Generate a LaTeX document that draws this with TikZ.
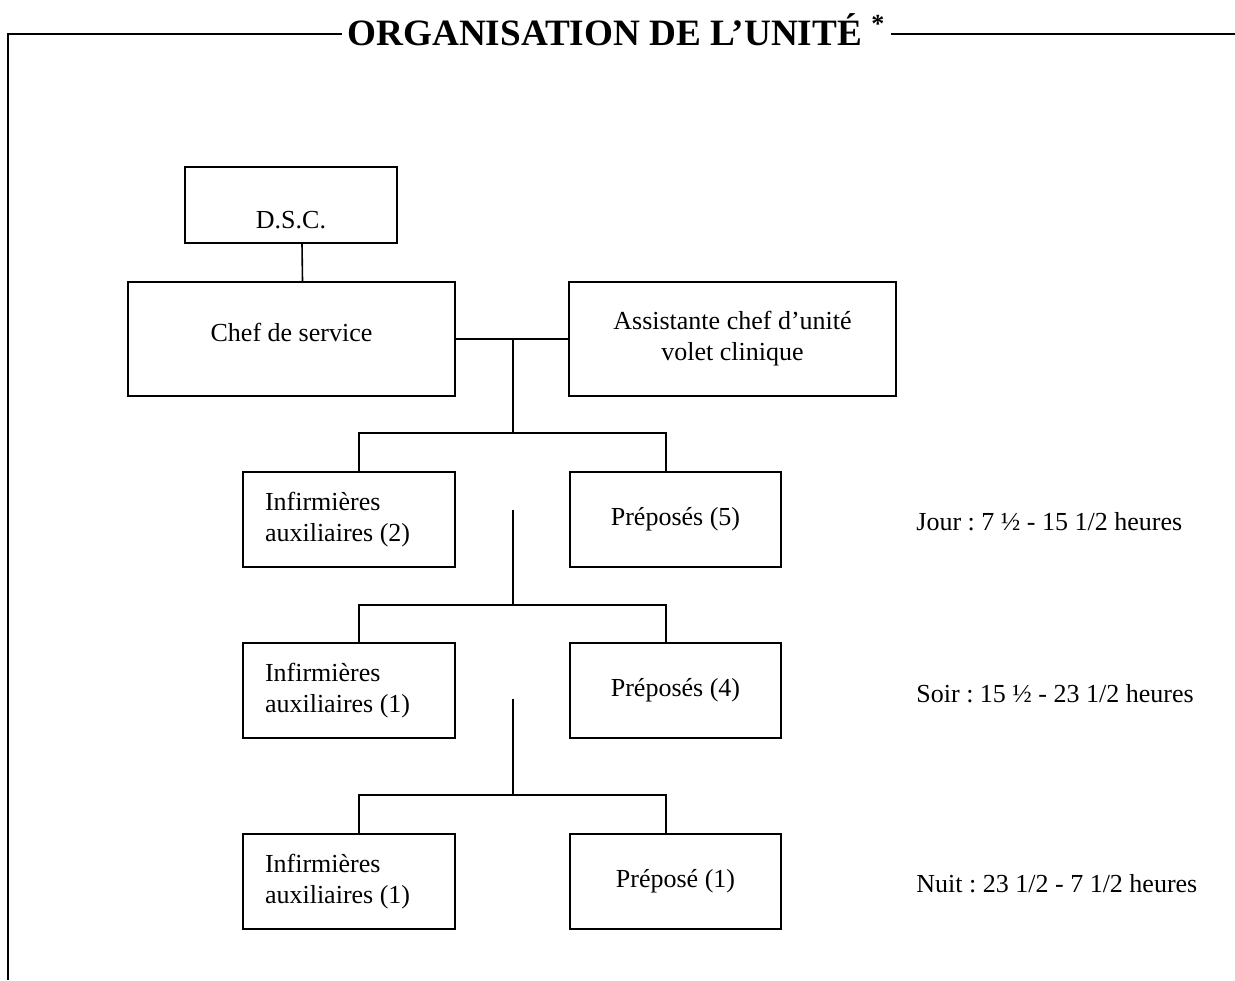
\documentclass[tikz,border=0pt]{standalone}
\usepackage{fontspec}
\setmainfont{Liberation Serif}
\usepackage{tikz}
\usetikzlibrary{positioning, calc}
\frenchspacing

\begin{document}
\begin{tikzpicture}[
    x=0.5pt, y=-0.5pt,
    box/.style={draw, line width=0.9pt, font=\fontsize{13}{15.5}\selectfont},
    infbox/.style={box, align=flush left, text width=84pt, inner xsep=11pt, minimum width=106pt, minimum height=47.5pt},
    prepbox/.style={box, minimum width=105.5pt, minimum height=47.5pt},
    hours/.style={anchor=base west, inner xsep=0pt, font=\fontsize{13}{15.5}\selectfont},
    link/.style={line width=0.8pt},
]
    \useasboundingbox (0, 0) rectangle (1235, 980);

    % frame with title
    \coordinate (fl) at (8, 34);
    \coordinate (fb) at (8, 980);
    \coordinate (fr) at (1235, 34);
    \node[anchor=base west, inner xsep=2.5pt, font=\fontsize{18.6}{22}\selectfont\bfseries] (title) at (342, 45)
        {ORGANISATION DE L’UNITÉ \textsuperscript{*}};
    \draw[line width=0.75pt] (title.west |- fl) -- (fl) -- (fb);
    \draw[line width=0.75pt] (title.east |- fr) -- (fr);

    % direction
    \node[box, minimum width=106pt, minimum height=38pt, text height=23pt, text depth=0pt] (dsc) at (291, 205) {D.S.C.};
    \node[box, minimum width=163.5pt, minimum height=57pt, text height=8pt, text depth=6pt] (chef) at (291.5, 339) {Chef de service};
    \node[box, align=center, minimum width=163.5pt, minimum height=57pt] (asst) at (732.5, 339) {Assistante chef d’unité\\volet clinique};

    \draw[link] ([xshift=5.5pt]dsc.south) -- ([xshift=5.5pt]chef.north);
    \draw[link] (chef) -- (asst);

    % jour
    \node[infbox] (inf1) at (349, 519.5) {Infirmières\\auxiliaires (2)};
    \node[prepbox] (prep1) at (675.5, 519.5) {Préposés (5)};
    \node[hours] (jour) at (916, 530) {Jour : 7 ½ - 15 1/2 heures};

    \coordinate (j1) at (513, 339);
    \coordinate (b1l) at (359, 433);
    \coordinate (b1r) at (666, 433);
    \draw[link] (j1) -- (j1 |- b1l);
    \draw[link] (inf1.north -| b1l) -- (b1l) -- (b1r) -- (prep1.north -| b1r);

    % soir
    \node[infbox] (inf2) at (349, 690.5) {Infirmières\\auxiliaires (1)};
    \node[prepbox] (prep2) at (675.5, 690.5) {Préposés (4)};
    \node[hours] (soir) at (916, 702) {Soir : 15 ½ - 23 1/2 heures};

    \coordinate (t2) at (513, 510);
    \coordinate (b2l) at (359, 605);
    \coordinate (b2r) at (666, 605);
    \draw[link] (t2) -- (t2 |- b2l);
    \draw[link] (inf2.north -| b2l) -- (b2l) -- (b2r) -- (prep2.north -| b2r);

    % nuit
    \node[infbox] (inf3) at (349, 881.5) {Infirmières\\auxiliaires (1)};
    \node[prepbox] (prep3) at (675.5, 881.5) {Préposé (1)};
    \node[hours] (nuit) at (916, 892) {Nuit : 23 1/2 - 7 1/2 heures};

    \coordinate (t3) at (513, 699);
    \coordinate (b3l) at (359, 795);
    \coordinate (b3r) at (666, 795);
    \draw[link] (t3) -- (t3 |- b3l);
    \draw[link] (inf3.north -| b3l) -- (b3l) -- (b3r) -- (prep3.north -| b3r);
\end{tikzpicture}
\end{document}
